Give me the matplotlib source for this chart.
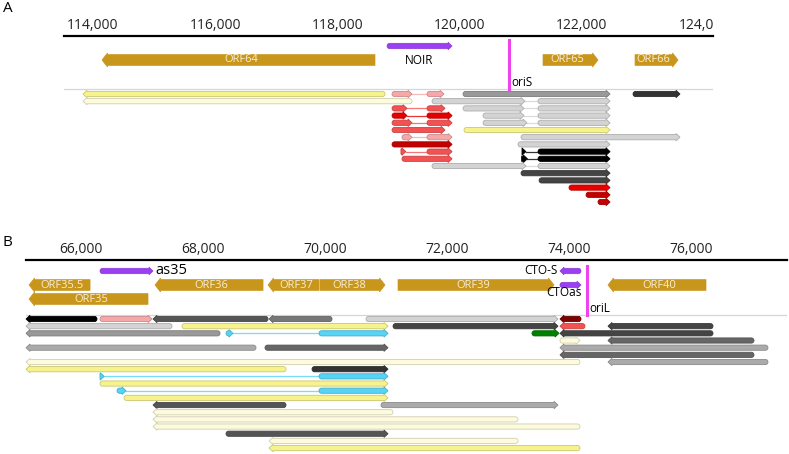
import numpy as np
import matplotlib
matplotlib.use("Agg")
import matplotlib.pyplot as plt
import matplotlib.colors as mcolors
from matplotlib.patches import Polygon
from matplotlib.transforms import Bbox, TransformedBbox

plt.rcParams['font.family'] = ['Open Sans', 'DejaVu Sans']

# ---- palette for transcript classes ----
COLORS = {
    'yellow': '#f7f38c', 'pale': '#fdfbdb', 'pink': '#f6a8a8', 'red': '#f45252',
    'bright': '#e60000', 'dkred': '#c40000', 'maroon': '#7f0000', 'black': '#000000',
    'g20': '#333333', 'g27': '#444444', 'g33': '#555555', 'g40': '#666666',
    'g47': '#777777', 'g60': '#999999', 'g67': '#aaaaaa', 'g83': '#d3d3d3',
    'cyan': '#55d4f5', 'green': '#008000',
}
GOLD = '#c8961b'
PURPLE = '#9b3ff2'
MAGENTA = '#ee44ee'

# ---- panel A data ----
A_TICKS = [114000, 116000, 118000, 120000, 122000, 124000]
A_XLIM = (113525, 124147)
A_ORFS = [("ORF64", 114147, 118615, "-", 0),
          ("ORF65", 121365, 122265, "+", 0),
          ("ORF66", 122871, 123575, "+", 0)]
A_RNAS = [("NOIR", 118812, 119876, "+")]
A_ORI = ("oriS", 120808)
# row, colour class, strand, exons
A_TX = [
    (0, 'yellow', '-', [(113836, 118779)]),
    (0, 'pink', '+', [(118894, 119221), (119466, 119745)]),
    (0, 'g60', '+', [(120056, 122462)]),
    (0, 'g20', '+', [(122838, 123607)]),
    (1, 'pale', '-', [(113836, 119221)]),
    (1, 'g83', '+', [(119548, 121070), (121283, 122462)]),
    (2, 'red', '+', [(118894, 119139), (119466, 119761)]),
    (2, 'g83', '+', [(120056, 121054), (121283, 122462)]),
    (3, 'bright', '+', [(118894, 119139), (119466, 119876)]),
    (3, 'g83', '+', [(120383, 121054), (121283, 122462)]),
    (4, 'red', '+', [(118894, 119221), (119466, 119876)]),
    (4, 'g83', '+', [(120383, 121103), (121283, 122462)]),
    (5, 'red', '+', [(118894, 119761)]),
    (5, 'yellow', '+', [(120072, 122462)]),
    (6, 'pink', '+', [(119057, 119221), (119466, 119876)]),
    (6, 'g83', '+', [(121005, 123607)]),
    (7, 'dkred', '+', [(118894, 119876)]),
    (7, 'g83', '+', [(120956, 122462)]),
    (8, 'red', '+', [(119040, 119120), (119466, 119876)]),
    (8, 'black', '+', [(121021, 121085), (121283, 122462)]),
    (9, 'red', '+', [(119057, 119876)]),
    (9, 'black', '+', [(121015, 121110), (121283, 122462)]),
    (10, 'g83', '+', [(119548, 121087), (121283, 122462)]),
    (11, 'g27', '+', [(121005, 122462)]),
    (12, 'g27', '+', [(121300, 122462)]),
    (13, 'bright', '+', [(121790, 122462)]),
    (14, 'dkred', '+', [(122069, 122462)]),
    (15, 'dkred', '+', [(122265, 122462)]),
]

# ---- panel B data ----
B_TICKS = [66000, 68000, 70000, 72000, 74000, 76000]
B_XLIM = (65098, 77574)
B_ORFS = [("ORF35.5", 65148, 66148, "-", 0),
          ("ORF35", 65148, 67098, "-", 1),
          ("ORF36", 67213, 68984, "-", 0),
          ("ORF37", 69066, 69902, "-", 0),
          ("ORF38", 69918, 70984, "+", 0),
          ("ORF39", 71197, 73754, "+", 0),
          ("ORF40", 74639, 76246, "-", 0)]
B_RNAS = [("as35", 66311, 67180, "+"), ("CTO-S", 73852, 74197, "-"),
          ("CTOas", 73852, 74197, "+")]
B_ORI = ("oriL", 74295)
B_TX = [
    (0, 'black', '-', [(65098, 66262)]),
    (0, 'pink', '+', [(66311, 67164)]),
    (0, 'g33', '-', [(67180, 69066)]),
    (0, 'g47', '-', [(69082, 70115)]),
    (0, 'g83', '+', [(70672, 73820)]),
    (0, 'maroon', '-', [(73852, 74197)]),
    (1, 'g83', '-', [(65098, 67492)]),
    (1, 'yellow', '+', [(67656, 71033)]),
    (1, 'g27', '+', [(71115, 73820)]),
    (1, 'red', '-', [(73852, 74262)]),
    (1, 'g27', '-', [(74639, 76361)]),
    (2, 'g60', '-', [(65098, 68279)]),
    (2, 'cyan', '+', [(68377, 68492), (69902, 71033)]),
    (2, 'green', '+', [(73393, 73836)]),
    (2, 'g27', '-', [(73852, 76361)]),
    (3, 'pale', '+', [(73852, 74180)]),
    (3, 'g40', '-', [(74639, 77033)]),
    (4, 'g67', '-', [(65098, 68869)]),
    (4, 'g40', '+', [(69016, 71033)]),
    (4, 'g67', '-', [(73852, 77262)]),
    (5, 'g40', '-', [(73852, 77033)]),
    (6, 'pale', '-', [(65098, 74180)]),
    (6, 'g67', '-', [(74639, 77262)]),
    (7, 'yellow', '-', [(65098, 69361)]),
    (7, 'g20', '+', [(69787, 71033)]),
    (8, 'cyan', '+', [(66311, 66380), (69902, 71033)]),
    (9, 'yellow', '+', [(66311, 71033)]),
    (10, 'cyan', '+', [(66590, 66738), (69902, 71033)]),
    (11, 'yellow', '+', [(66705, 71033)]),
    (12, 'g33', '-', [(67180, 69361)]),
    (12, 'g67', '+', [(70918, 73820)]),
    (13, 'pale', '-', [(67180, 71115)]),
    (14, 'pale', '-', [(67180, 73164)]),
    (15, 'pale', '-', [(67180, 74180)]),
    (16, 'g33', '+', [(68377, 71033)]),
    (17, 'pale', '-', [(69082, 73164)]),
    (18, 'yellow', '-', [(69082, 74180)]),
]

W, H = 789, 454


def arrow_pts(x0, x1, y, strand, bpp, half, head_half, head_px, rounded=True):
    """polygon of a directional block; y units are pixels, x units are bp"""
    head = head_px * bpp
    r = half * bpp
    base = max(x0, x1 - head)
    if rounded and base - x0 > r:
        cx = x0 + r
        th = np.linspace(np.pi / 2, 3 * np.pi / 2, 14)
        pts = [(base, y + half)] + [(cx + r * np.cos(t), y + half * np.sin(t)) for t in th] + [(base, y - half)]
    elif base > x0:
        pts = [(base, y + half), (x0, y + half), (x0, y - half), (base, y - half)]
    else:
        pts = []
    pts += [(base, y - head_half), (x1, y), (base, y + head_half)]
    if strand == '-':
        pts = [(x0 + x1 - px, py) for px, py in pts]
    return pts


def edge_of(c, k=0.82):
    r, g, b = mcolors.to_rgb(c)
    return (r * k, g * k, b * k)


def panel(rect_px, xlim, ticks):
    left, top, right, bottom = rect_px
    ax = fig.add_axes([left / W, 1 - bottom / H, (right - left) / W, (bottom - top) / H])
    ax.set_xlim(*xlim)
    ax.set_ylim(bottom - top, 0)
    ax.patch.set_alpha(0)
    for s in ['left', 'right', 'bottom']:
        ax.spines[s].set_visible(False)
    ax.spines['top'].set_linewidth(1.6)
    ax.set_yticks([])
    ax.set_xticks(ticks)
    ax.set_xticklabels([f"{t:,}" for t in ticks])
    ax.tick_params(axis='x', top=True, labeltop=True, bottom=False, labelbottom=False,
                   length=0, pad=2.5, labelsize=10, labelcolor='#222222')
    bpp = (xlim[1] - xlim[0]) / (right - left)
    return ax, bpp


def draw_tx(ax, bpp, rows, row0, step):
    for row, cls, strand, exons in rows:
        y = row0 + row * step
        col = COLORS[cls]
        for (a0, a1), (b0, b1) in zip(exons[:-1], exons[1:]):
            ax.plot([a1, b0], [y, y], color=col, lw=0.9, alpha=0.8, zorder=2)
        for e0, e1 in exons:
            ax.add_patch(Polygon(arrow_pts(e0, e1, y, strand, bpp, 2.6, 3.7, 4),
                                 closed=True, facecolor=col, edgecolor=edge_of(col),
                                 lw=0.6, zorder=3, clip_on=False))


def draw_orfs(ax, bpp, orfs, y0, lane_step):
    for name, s, e, strand, lane in orfs:
        y = y0 + lane * lane_step
        ax.add_patch(Polygon(arrow_pts(s, e, y, strand, bpp, 5.4, 7.0, 5.5, rounded=False),
                             closed=True, facecolor=GOLD, edgecolor=GOLD, lw=0.5, zorder=3,
                             clip_on=False))
        head = 5.5 * bpp
        cx = (s + e - head) / 2 if strand == '+' else (s + head + e) / 2
        ax.text(cx, y, name, ha='center', va='center', fontsize=8, color='#f8efd6', zorder=4)


def draw_rna(ax, bpp, s, e, strand, y):
    ax.add_patch(Polygon(arrow_pts(s, e, y, strand, bpp, 2.7, 3.8, 4),
                         closed=True, facecolor=PURPLE, edgecolor=edge_of(PURPLE, 0.9),
                         lw=0.5, zorder=3, clip_on=False))


fig = plt.figure(figsize=(W / 100, H / 100), dpi=100)

# ---------------- panel A ----------------
axA, bppA = panel((64, 36, 713, 215), A_XLIM, A_TICKS)
axA.axhline(53, color='#d6d6d6', lw=0.9, zorder=1)
draw_orfs(axA, bppA, A_ORFS, 24, 14)
name, s, e, strand = A_RNAS[0]
draw_rna(axA, bppA, s, e, strand, 10)
axA.text((s + e) / 2, 25, name, ha='center', va='center', fontsize=8.5, color='black')
axA.plot([A_ORI[1]] * 2, [4, 53], color=MAGENTA, lw=2.2, zorder=4)
axA.text(A_ORI[1] + 2 * bppA, 47, A_ORI[0], ha='left', va='center', fontsize=8.5, color='black')
draw_tx(axA, bppA, A_TX, 58, 7.2)

# ---------------- panel B ----------------
axB, bppB = panel((26, 260, 787, 454), B_XLIM, B_TICKS)
axB.axhline(55, color='#d6d6d6', lw=0.9, zorder=1)
draw_orfs(axB, bppB, B_ORFS, 25, 14)
(n1, s1, e1, d1), (n2, s2, e2, d2), (n3, s3, e3, d3) = B_RNAS
draw_rna(axB, bppB, s1, e1, d1, 11)
axB.text(e1 + 2 * bppB, 10.5, n1, ha='left', va='center', fontsize=10.5, color='black')
draw_rna(axB, bppB, s2, e2, d2, 11)
axB.text(s2 - 2 * bppB, 11, n2, ha='right', va='center', fontsize=8.5, color='black')
draw_rna(axB, bppB, s3, e3, d3, 25)
axB.text(e3 + 1 * bppB, 32.5, n3, ha='right', va='center', fontsize=8.5, color='black')
axB.plot([B_ORI[1]] * 2, [6, 55], color=MAGENTA, lw=2.2, zorder=4)
axB.text(B_ORI[1] + 2 * bppB, 48, B_ORI[0], ha='left', va='center', fontsize=8.5, color='black')
draw_tx(axB, bppB, B_TX, 59, 7.17)

fig.text(7.5 / W, 1 - 8.5 / H, 'A', ha='center', va='center', fontsize=11)
fig.text(7.5 / W, 1 - 242 / H, 'B', ha='center', va='center', fontsize=11)

# the last coordinate label of panel A is cut at the axis end
fig.canvas.draw()
clip = TransformedBbox(Bbox([[0, 0], [713 / W, 1]]), fig.transFigure)
for t in axA.xaxis.get_major_ticks():
    t.label2.set_clip_box(clip)
    t.label2.set_clip_on(True)

fig.savefig('out.png', dpi=100)
